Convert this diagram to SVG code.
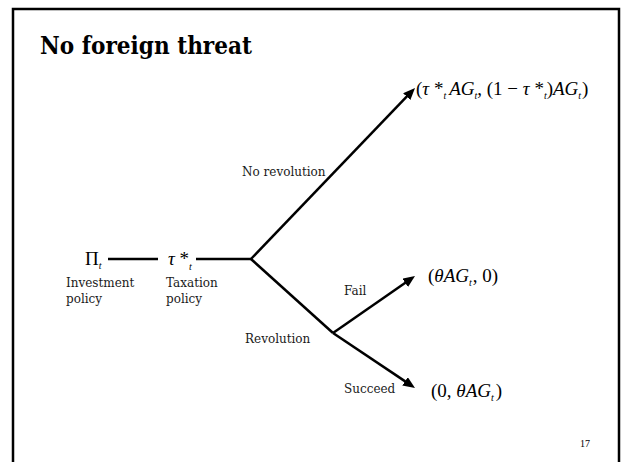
<svg xmlns="http://www.w3.org/2000/svg" width="622" height="462" viewBox="0 0 622 462">
  <defs>
    <style>
      .frame{fill:none;stroke:#000;stroke-width:2.5}
      .title{font-family:"DejaVu Serif",serif;font-weight:bold;font-size:24px;fill:#000}
      .lbl{font-family:"DejaVu Serif",serif;font-size:12px;fill:#1a1a1a}
      .page{font-family:"Liberation Serif",serif;font-size:10px;fill:#000}
      .math{font-family:"Liberation Serif",serif;font-size:19px;fill:#000}
      .it{font-style:italic}
      .sub{font-size:10px;font-style:italic}
      .edge{stroke:#000;stroke-width:2.5;fill:none}
    </style>
    <marker id="arrow" viewBox="0 0 12 10" refX="2" refY="5" markerWidth="12" markerHeight="10" markerUnits="userSpaceOnUse" orient="auto">
      <path d="M0,0 L12,5 L0,10 z" fill="#000"/>
    </marker>
  </defs>

  <rect width="622" height="462" fill="#fff"/>
  <!-- slide frame (open at the bottom) -->
  <path class="frame" d="M13,470 V9 H619 V470"/>

  <text class="title" x="40" y="54" textLength="212" lengthAdjust="spacingAndGlyphs">No foreign threat</text>

  <!-- connectors -->
  <g id="connectors">
    <line class="edge" x1="108" y1="259" x2="158" y2="259"/>
    <line class="edge" x1="196" y1="259" x2="251" y2="259"/>
    <line class="edge" x1="251" y1="259" x2="408.1" y2="95.2" marker-end="url(#arrow)"/>
    <line class="edge" x1="251" y1="259" x2="333" y2="333"/>
    <line class="edge" x1="333" y1="333" x2="406.8" y2="281.7" marker-end="url(#arrow)"/>
    <line class="edge" x1="333" y1="333" x2="406.7" y2="382.4" marker-end="url(#arrow)"/>
  </g>

  <!-- decision nodes -->
  <g id="investment">
    <text class="math" x="85" y="265">Π<tspan class="sub" dy="4">t</tspan></text>
    <text class="lbl" x="66" y="287">Investment</text>
    <text class="lbl" x="66" y="303">policy</text>
  </g>

  <g id="taxation">
    <text class="math" x="168" y="265"><tspan class="it">τ</tspan> *<tspan class="sub" dy="5">t</tspan></text>
    <text class="lbl" x="166" y="287">Taxation</text>
    <text class="lbl" x="166" y="303">policy</text>
  </g>

  <!-- branch labels -->
  <g id="no-revolution">
    <text class="lbl" x="242" y="176">No revolution</text>
  </g>
  <g id="revolution">
    <text class="lbl" x="245" y="343">Revolution</text>
  </g>
  <g id="fail">
    <text class="lbl" x="344" y="295">Fail</text>
  </g>
  <g id="succeed">
    <text class="lbl" x="344" y="393">Succeed</text>
  </g>

  <!-- payoffs -->
  <g id="payoff-no-revolution">
    <text class="math" x="416" y="95">(<tspan class="it">τ</tspan> *<tspan class="sub" dy="4">t</tspan><tspan dy="-4" dx="3" class="it">AG</tspan><tspan class="sub" dy="4">t</tspan><tspan dy="-4">, (1 − </tspan><tspan class="it">τ</tspan> *<tspan class="sub" dy="4">t</tspan><tspan dy="-4">)</tspan><tspan class="it">AG</tspan><tspan class="sub" dy="4">t</tspan><tspan dy="-4" dx="1">)</tspan></text>
  </g>
  <g id="payoff-fail">
    <text class="math" x="428" y="282" font-size="20">(<tspan class="it">θAG</tspan><tspan class="sub" dy="4">t</tspan><tspan dy="-4" dx="1">, 0)</tspan></text>
  </g>
  <g id="payoff-succeed">
    <text class="math" x="431" y="397" font-size="20">(0, <tspan class="it">θAG</tspan><tspan class="sub" dy="4">t</tspan><tspan dy="-4" dx="2">)</tspan></text>
  </g>

  <text class="page" x="580" y="447">17</text>
</svg>
